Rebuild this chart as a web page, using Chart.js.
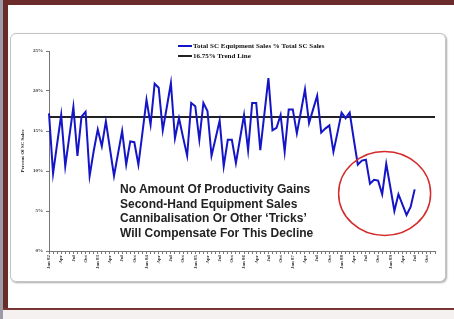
<!DOCTYPE html>
<html>
<head>
<meta charset="utf-8">
<script src="https://cdn.jsdelivr.net/npm/chart.js@4.4.1/dist/chart.umd.min.js"></script>
<style>
  html, body { margin: 0; padding: 0; }
  body { width: 454px; height: 319px; position: relative; overflow: hidden; background: #fff; }
  .strip { position: absolute; left: 0; top: 0; width: 3px; height: 319px; background: #9c9ca8; }
  .frameL { position: absolute; left: 3px; top: 0; width: 5px; height: 310px; background: #6b2b2b; }
  .frameT { position: absolute; left: 3px; top: 0; width: 451px; height: 5px; background: #6b2b2b; }
  .frameB { position: absolute; left: 3px; top: 308px; width: 451px; height: 2px; background: #7a3535; }
  .below { position: absolute; left: 3px; top: 310px; width: 451px; height: 9px; background: #f6f1f1; }
  .panel { position: absolute; left: 10px; top: 33px; width: 434px; height: 247px; border: 1px solid #c4c4c4; border-radius: 6px; box-shadow: 1px 1px 2px #aaa; background: #fff; }
  #wrap { position: absolute; left: 10px; top: 33px; width: 436px; height: 249px; }
  .legend { position: absolute; left: 178px; font: bold 7px "Liberation Serif", serif; color: #111; white-space: nowrap; }
  .legend i { display: inline-block; width: 14px; height: 2px; vertical-align: middle; margin-right: 1px; }
  .note { position: absolute; left: 120px; top: 182px; font: bold 12px "Liberation Sans", Arial, sans-serif; line-height: 14.5px; color: #222; white-space: nowrap; }
</style>
</head>
<body>
<div class="strip"></div>
<div class="frameL"></div>
<div class="frameT"></div>
<div class="frameB"></div>
<div class="below"></div>
<div class="panel"></div>
<div id="wrap"><canvas id="chart"></canvas></div>
<div class="legend" style="top:42px"><i style="background:#1515c8"></i>Total SC Equipment Sales % Total SC Sales</div>
<div class="legend" style="top:52px"><i style="background:#222"></i>16.75% Trend Line</div>
<div class="note">No Amount Of Productivity Gains<br>Second-Hand Equipment Sales<br>Cannibalisation Or Other ‘Tricks’<br>Will Compensate For This Decline</div>
<script>
// Axe des mois : Jan 82 -> Dec 89
const years = ["82", "83", "84", "85", "86", "87", "88", "89"];
const months = ["Jan", "Feb", "Mar", "Apr", "May", "Jun", "Jul", "Aug", "Sep", "Oct", "Nov", "Dec"];
const labels = [];
years.forEach((y) => months.forEach((m) => labels.push(m + " " + y)));

// Ventes d'équipement en % des ventes totales (Jan 82 -> Jul 89)
const equipmentPct = [
  17.2, 9.7, 13.4, 17.0, 10.6, 14.3, 18.0, 11.9, 16.8, 17.4, 9.4, 12.5,
  15.2, 13.1, 16.2, 12.8, 9.4, 12.2, 15.0, 10.8, 13.7, 13.6, 10.8, 14.8,
  18.9, 15.8, 20.9, 20.4, 15.1, 18.0, 21.0, 14.1, 16.6, 14.2, 11.9, 18.5,
  18.1, 13.9, 18.5, 17.5, 11.9, 14.1, 16.3, 10.6, 13.9, 13.9, 11.0, 14.0,
  17.0, 12.6, 18.5, 18.5, 12.6, 17.1, 21.6, 15.1, 15.4, 17.0, 12.4, 17.7,
  17.7, 14.7, 17.4, 20.2, 16.0, 17.7, 19.4, 14.8, 15.3, 15.7, 12.4, 14.8,
  17.3, 16.6, 17.3, 14.0, 10.8, 11.3, 11.4, 8.4, 8.9, 8.8, 7.1, 10.9,
  8.0, 5.0, 7.1, 5.8, 4.5, 5.5, 7.7
];
const trendValue = 16.75;
const yTicks = [0, 5, 10, 15, 20, 25];

// Ellipse rouge autour du déclin
const circlePlugin = {
  id: "circle",
  afterDatasetsDraw(chart) {
    const { ctx, scales } = chart;
    const cx = scales.x.getPixelForValue(82.6);
    const cy = scales.y.getPixelForValue(7.2);
    ctx.save();
    ctx.strokeStyle = "#d42a2a";
    ctx.lineWidth = 1.5;
    ctx.beginPath();
    ctx.ellipse(cx, cy, 46, 42, 0, 0, Math.PI * 2);
    ctx.stroke();
    ctx.restore();
  },
};

const tickFont = { family: "Liberation Serif", size: 5, weight: "bold" };

new Chart(document.getElementById("chart"), {
  type: "line",
  data: {
    labels: labels,
    datasets: [
      {
        label: "Total SC Equipment Sales % Total SC Sales",
        data: equipmentPct,
        borderColor: "#1515c8",
        borderWidth: 2,
        pointRadius: 0,
        tension: 0,
        fill: false,
      },
      {
        label: "16.75% Trend Line",
        data: Array(labels.length).fill(trendValue),
        borderColor: "#222",
        borderWidth: 2,
        pointRadius: 0,
        fill: false,
      },
    ],
  },
  options: {
    responsive: true,
    maintainAspectRatio: false,
    animation: false,
    layout: { padding: { top: 18, right: 11, bottom: 2, left: 0 } },
    plugins: { legend: { display: false }, tooltip: { enabled: false } },
    scales: {
      x: {
        type: "category",
        offset: false,
        afterFit: (s) => { s.height = 29; },
        grid: { drawOnChartArea: false, drawTicks: true, tickLength: 3, color: "#777" },
        border: { color: "#777" },
        ticks: {
          autoSkip: false,
          minRotation: 90,
          maxRotation: 90,
          padding: 1,
          font: tickFont,
          color: "#333",
          callback: (v, i) => {
            if (i % 3 !== 0) return "";
            const l = labels[i];
            return l.startsWith("Jan") ? l : l.slice(0, 3);
          },
        },
      },
      y: {
        min: 0,
        max: 25,
        afterFit: (s) => { s.width = 39; },
        afterBuildTicks: (s) => { s.ticks = yTicks.map((v) => ({ value: v })); },
        grid: { drawOnChartArea: false, drawTicks: true, tickLength: 3, color: "#777" },
        border: { color: "#777" },
        title: {
          display: true,
          text: "Percent Of SC Sales",
          font: tickFont,
          color: "#222",
          padding: { top: 10, bottom: 0 },
        },
        ticks: {
          padding: 3,
          font: tickFont,
          color: "#333",
          callback: (v) => v + "%",
        },
      },
    },
  },
  plugins: [circlePlugin],
});
</script>
</body>
</html>
